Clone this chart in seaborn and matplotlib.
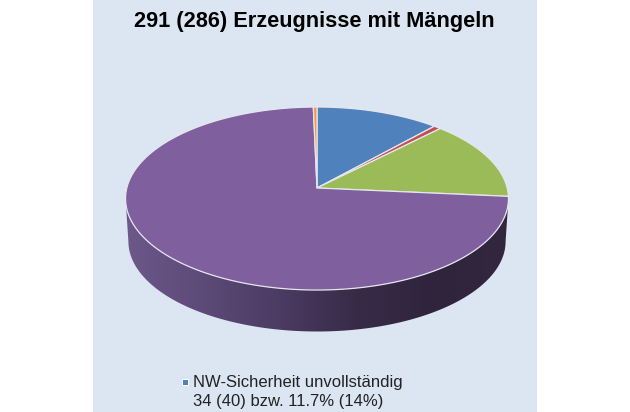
import numpy as np
import matplotlib
matplotlib.use("Agg")
import matplotlib.pyplot as plt
import seaborn as sns
from matplotlib.colors import LinearSegmentedColormap
from matplotlib.patches import Polygon

# counts, clockwise from 12 o'clock
counts = [34, 2, 41, 213, 1]
slice_colors = ["#4f81bd", "#c0504d", "#9bbb59", "#7f5f9e", "#f79646"]
title_text = "291 (286) Erzeugnisse mit Mängeln"
legend_text = "NW-Sicherheit unvollständig\n34 (40) bzw. 11.7% (14%)"
side_colors = ["#6d5889", "#5c4a78", "#4c3b62", "#382b48", "#30243d", "#33263f"]

sns.set_theme(style="white")
plt.rcParams["font.family"] = ["Liberation Sans", "DejaVu Sans"]

# the flat pie is tilted with a projective map, so the apex sits above the ellipse centre
CX, CY = 317, 188
A, B, K = 190.2, 90.3, 0.115
DEPTH, SHRINK = 43, 0.985


def tilt(theta_deg, scale=1.0, drop=0):
    t = np.radians(theta_deg)
    u, v = np.cos(t), np.sin(t)
    w = 1 + K * v
    return np.column_stack([CX + scale * A * u / w, CY + drop - scale * B * v / w])


fig = plt.figure(figsize=(6.3, 4.12), dpi=100, facecolor="white")
ax = fig.add_axes([93 / 630, 0, 444 / 630, 1], facecolor="#dce6f2")

wedges, _ = ax.pie(counts, colors=slice_colors, startangle=90, counterclock=False)
angles = [(w.theta1, w.theta2) for w in wedges]
for w in wedges:
    w.remove()

# side wall, only the purple slice shows there
edge = np.degrees(np.arcsin(K))
wall = np.linspace(180 + edge, 360 - edge, 200)
side = Polygon(np.vstack([tilt(wall), tilt(wall[::-1], SHRINK, DEPTH)]), closed=True,
               transform=ax.transData, facecolor="none", edgecolor="none")
ax.add_patch(side)
side_cmap = LinearSegmentedColormap.from_list("side", side_colors)
img = ax.imshow(np.linspace(0, 1, 256)[None, :], cmap=side_cmap, aspect="auto",
                extent=(126, 509, 335, 190), zorder=1)
img.set_clip_path(side)

for (t1, t2), color in zip(angles, slice_colors):
    arc = np.linspace(t1, t2, max(int(t2 - t1) * 2, 4))
    pts = np.vstack([[CX, CY], tilt(arc)])
    ax.add_patch(Polygon(pts, closed=True, facecolor=color, edgecolor="#e6e6ee",
                         linewidth=0.9, joinstyle="round", zorder=2))

ax.set_xlim(93, 537)
ax.set_ylim(412, 0)
ax.set_aspect("auto")
ax.set_axis_on()
ax.set_frame_on(True)
ax.set_xticks([])
ax.set_yticks([])
sns.despine(ax=ax, left=True, bottom=True, top=True, right=True)

ax.text(314.5, 21, title_text, ha="center", va="center", fontsize=15.7,
        fontweight="bold", color="black")

# legend entry, handle lines up with the first text line only
ax.plot([185], [382], linestyle="none", marker="s", markersize=4.5,
        markerfacecolor=slice_colors[0], markeredgecolor="white", markeredgewidth=0.7)
ax.text(193, 392, legend_text, ha="left", va="center", fontsize=12,
        linespacing=1.32, color="#222222")

fig.savefig("out.png", dpi=100)
